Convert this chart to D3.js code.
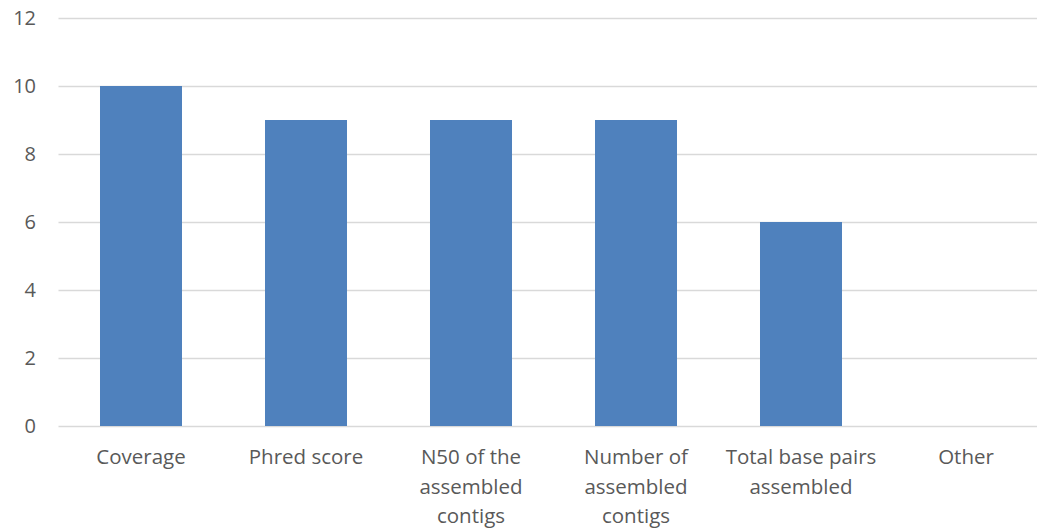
<!DOCTYPE html>
<html><head><meta charset="utf-8">
<script src="https://cdn.jsdelivr.net/npm/d3@7"></script>
<style>body{margin:0;background:#fff}svg{display:block}</style>
</head><body>
<svg id="c" width="1037" height="530"></svg>
<script>
const categories = ["Coverage","Phred score","N50 of the assembled contigs","Number of assembled contigs","Total base pairs assembled","Other"];
const labelLines = [["Coverage"],["Phred score"],["N50 of the","assembled","contigs"],["Number of","assembled","contigs"],["Total base pairs","assembled"],["Other"]];
const values = [10,9,9,9,6,0];
const yTicks = [0,2,4,6,8,10,12];

const svg = d3.select("#c");
const x = d3.scaleBand().domain(categories).range([58.5,1048.5]).paddingInner(0.503).paddingOuter(0.2515);
const y = d3.scaleLinear().domain([0,12]).range([426,18]);
const font = "'Open Sans', sans-serif";

svg.append("g").selectAll("line").data(yTicks).join("line")
  .attr("x1",58.5).attr("x2",1037).attr("y1",d=>Math.round(y(d))+0.5).attr("y2",d=>Math.round(y(d))+0.5)
  .attr("stroke","#d9d9d9").attr("stroke-width",1.5);

svg.append("g").selectAll("text").data(yTicks).join("text")
  .attr("x",36).attr("y",d=>y(d)).attr("dy","0.35em").attr("text-anchor","end")
  .attr("font-family",font).attr("font-size",20).attr("fill","#595959").text(d=>d);

svg.append("g").selectAll("rect").data(values).join("rect")
  .attr("x",(d,i)=>x(categories[i])).attr("width",x.bandwidth())
  .attr("y",d=>y(d)).attr("height",d=>y(0)-y(d)).attr("fill","#4f81bd");

const lg = svg.append("g").selectAll("text").data(categories).join("text")
  .attr("x",d=>x(d)+x.bandwidth()/2).attr("y",464).attr("text-anchor","middle")
  .attr("font-family",font).attr("font-size",20.5).attr("fill","#595959");
lg.each(function(d,i){
  d3.select(this).selectAll("tspan").data(labelLines[i]).join("tspan")
    .attr("x",x(d)+x.bandwidth()/2).attr("dy",(t,j)=>j===0?0:29.5).text(t=>t);
});
</script>
</body></html>
